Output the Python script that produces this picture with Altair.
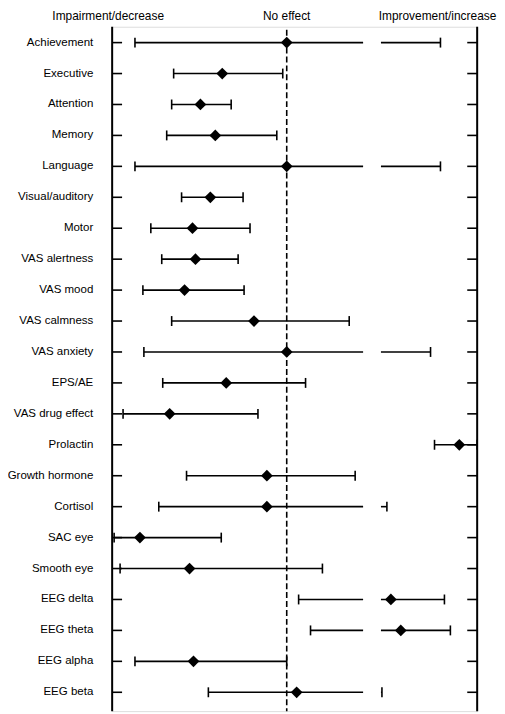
import altair as alt
import pandas as pd

# ---- data (effect units; 0 = no effect) ----
labels = ["Achievement", "Executive", "Attention", "Memory", "Language",
          "Visual/auditory", "Motor", "VAS alertness", "VAS mood", "VAS calmness",
          "VAS anxiety", "EPS/AE", "VAS drug effect", "Prolactin", "Growth hormone",
          "Cortisol", "SAC eye", "Smooth eye", "EEG delta", "EEG theta",
          "EEG alpha", "EEG beta"]
lower = [-1.53, -1.14, -1.16, -1.21, -1.53, -1.06, -1.37, -1.26, -1.45, -1.16,
         -1.44, -1.25, -1.65, 1.49, -1.01, -1.29, -1.74, -1.68, 0.12, 0.24,
         -1.53, -0.79]
estimate = [0.00, -0.65, -0.87, -0.72, 0.00, -0.77, -0.95, -0.92, -1.03, -0.33,
            0.00, -0.61, -1.18, 1.74, -0.20, -0.20, -1.48, -0.98, 1.05, 1.15,
            -0.94, 0.10]
upper = [1.55, -0.04, -0.56, -0.10, 1.55, -0.44, -0.37, -0.49, -0.43, 0.63,
         1.45, 0.19, -0.29, 1.92, 0.69, 1.01, -0.66, 0.36, 1.59, 1.65,
         0.00, 0.96]
header_titles = ["Impairment/decrease", "No effect", "Improvement/increase"]

# axis break (gap in the x axis) and x range
BREAK_START, BREAK_END = 0.77, 0.95
X_MIN, X_MAX = -1.76, 1.92

W, H = 368, 690
ROW0, STEP = 16, 31.19
FONT = "Liberation Sans"

n = len(labels)
df = pd.DataFrame({"label": labels, "row": list(range(n)),
                   "lo": lower, "est": estimate, "hi": upper})

# split each interval around the axis break
seg_rows = []
for r in df.itertuples():
    if r.lo < BREAK_START:
        seg_rows.append({"row": r.row, "a": r.lo, "b": min(r.hi, BREAK_START)})
    if r.hi > BREAK_END:
        seg_rows.append({"row": r.row, "a": max(r.lo, BREAK_END), "b": r.hi})
segs = pd.DataFrame(seg_rows)

caps = pd.concat([
    pd.DataFrame({"row": df["row"], "x": df["lo"]}),
    pd.DataFrame({"row": df["row"], "x": df["hi"]}),
], ignore_index=True)

xs = alt.Scale(domain=[X_MIN, X_MAX], nice=False, zero=False)
ys = alt.Scale(domain=[-ROW0 / STEP, (H - ROW0) / STEP], reverse=True,
               nice=False, zero=False)

Y = alt.Y("row:Q", scale=ys, axis=None)

base = alt.Chart(df)

segments = alt.Chart(segs).mark_rule(color="black", strokeWidth=1.6).encode(
    x=alt.X("a:Q", scale=xs, axis=None), x2="b:Q", y=Y)

cap_marks = alt.Chart(caps).mark_tick(
    orient="vertical", color="black", size=10, thickness=1.6, opacity=1
).encode(x=alt.X("x:Q", scale=xs, axis=None), y=Y)

points = base.mark_point(shape="diamond", filled=True, size=140,
                         color="black", opacity=1).encode(
    x=alt.X("est:Q", scale=xs, axis=None), y=Y)

row_labels = base.mark_text(align="right", baseline="middle", font=FONT,
                            fontSize=11.6, color="black").encode(
    x=alt.value(-19), y=Y, text="label:N")

left_ticks = base.mark_rule(color="black", strokeWidth=1.6).encode(
    x=alt.value(0), x2=alt.value(10), y=Y)
right_ticks = base.mark_rule(color="black", strokeWidth=1.6).encode(
    x=alt.value(W - 10), x2=alt.value(W), y=Y)

frame = pd.DataFrame({"x": [X_MIN, X_MAX]})
axis_lines = alt.Chart(frame).mark_rule(color="black", strokeWidth=2).encode(
    x=alt.X("x:Q", scale=xs, axis=None), y=alt.value(0), y2=alt.value(H))

zero_line = alt.Chart(pd.DataFrame({"x": [0.0]})).mark_rule(
    color="black", strokeWidth=1.6, strokeDash=[6, 3]
).encode(x=alt.X("x:Q", scale=xs, axis=None), y=alt.value(3), y2=alt.value(H))

header_x = [-4, None, 328]
headers = []
for t, px in zip(header_titles, header_x):
    enc_x = alt.value(px) if px is not None else alt.X("x:Q", scale=xs, axis=None)
    headers.append(
        alt.Chart(pd.DataFrame({"t": [t], "x": [0.0]})).mark_text(
            align="center", baseline="alphabetic", font=FONT, fontSize=12,
            color="black"
        ).encode(x=enc_x, y=alt.value(-7), text="t:N")
    )

chart = alt.layer(
    zero_line, axis_lines, left_ticks, right_ticks, segments, cap_marks,
    points, row_labels, *headers
).properties(
    width=W, height=H,
    autosize=alt.AutoSizeParams(type="none"),
    padding={"left": 105, "top": 16, "right": 20, "bottom": 0},
).configure_view(stroke=None).configure(background="white")

chart.save("out.html", embed_options={"renderer": "svg", "actions": False})
